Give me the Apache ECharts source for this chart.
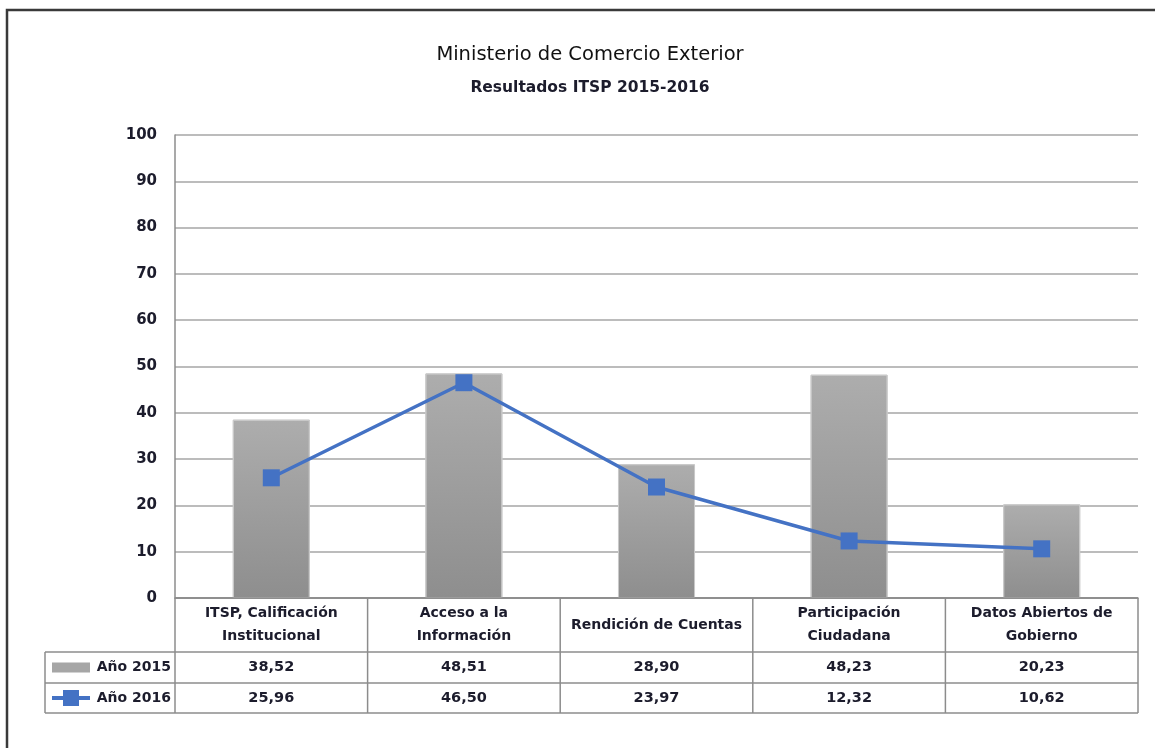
<!DOCTYPE html>
<html>
<head>
<meta charset="utf-8">
<script src="https://cdn.jsdelivr.net/npm/echarts@6/dist/echarts.min.js"></script>
<style>
html,body{margin:0;padding:0;background:#fff;}
#c{width:1155px;height:748px;}
</style>
</head>
<body>
<div id="c"></div>
<script>
var categories = ['ITSP, Calificación\nInstitucional', 'Acceso a la\nInformación', 'Rendición de Cuentas', 'Participación\nCiudadana', 'Datos Abiertos de\nGobierno'];
var values2015 = [38.52, 48.51, 28.90, 48.23, 20.23];
var values2016 = [25.96, 46.50, 23.97, 12.32, 10.62];
var seriesNames = ['Año 2015', 'Año 2016'];
var yTicks = [0, 10, 20, 30, 40, 50, 60, 70, 80, 90, 100];
var titleText = 'Ministerio de Comercio Exterior';
var subtitleText = 'Resultados ITSP 2015-2016';

var FONT = '"DejaVu Sans", sans-serif';
var TXT = '#1c1c2c';
var chart = echarts.init(document.getElementById('c'), null, {renderer: 'canvas'});

function fmt(v) { return v.toFixed(2).replace('.', ','); }

var option = {
  backgroundColor: '#fff',
  animation: false,
  title: [
    {text: titleText, left: 585, top: 40, textAlign: 'center',
     textStyle: {fontFamily: FONT, fontSize: 19.5, fontWeight: 'normal', color: '#111'}},
    {text: subtitleText, left: 585, top: 75, textAlign: 'center',
     textStyle: {fontFamily: FONT, fontSize: 15.5, fontWeight: 'bold', color: TXT}}
  ],
  grid: {left: 175, right: 17, top: 135, bottom: 150, containLabel: false},
  xAxis: {
    type: 'category', data: categories,
    axisLine: {show: true, lineStyle: {color: '#8c8c8c', width: 1.5}},
    axisTick: {show: false}, axisLabel: {show: false}, splitLine: {show: false}
  },
  yAxis: {
    type: 'value', min: yTicks[0], max: yTicks[yTicks.length - 1], interval: yTicks[1] - yTicks[0],
    axisLine: {show: true, lineStyle: {color: '#8c8c8c', width: 1.5}},
    axisTick: {show: false},
    axisLabel: {margin: 18, fontFamily: FONT, fontSize: 15, fontWeight: 'bold', color: TXT},
    splitLine: {show: true, lineStyle: {color: '#a6a6a6', width: 1.5}}
  },
  series: [
    {
      name: seriesNames[0], type: 'bar', data: values2015, barWidth: '40%',
      itemStyle: {
        color: new echarts.graphic.LinearGradient(0, 0, 0, 1, [
          {offset: 0, color: '#adadad'}, {offset: 1, color: '#8e8e8e'}
        ]),
        borderColor: '#c9c9c9', borderWidth: 1
      },
      z: 2
    },
    {
      name: seriesNames[1], type: 'line', data: values2016,
      symbol: 'rect', symbolSize: 17, showAllSymbol: true,
      lineStyle: {color: '#4472C4', width: 3.5},
      itemStyle: {color: '#4472C4'},
      z: 3
    }
  ]
};
chart.setOption(option);

function buildTable() {
  var c0 = chart.convertToPixel({xAxisIndex: 0}, 0);
  var c1 = chart.convertToPixel({xAxisIndex: 0}, 1);
  var band = c1 - c0;
  var x0 = c0 - band / 2;
  var xEnd = x0 + band * categories.length;
  var yTop = chart.convertToPixel({yAxisIndex: 0}, 0);
  var yHead = yTop + 54;
  var yRow1 = yHead + 31;
  var yRow2 = yRow1 + 30;
  var xLeft = 45;
  var lc = '#8c8c8c';
  var els = [];
  function line(x1, y1, x2, y2) {
    els.push({type: 'line', shape: {x1: x1, y1: y1, x2: x2, y2: y2}, style: {stroke: lc, lineWidth: 1.5}, z: 10});
  }
  function txt(x, y, t, size) {
    els.push({type: 'text', x: x, y: y, style: {text: t, x: 0, y: 0, align: 'center', verticalAlign: 'middle',
      font: 'bold ' + size + 'px ' + FONT, fill: TXT, lineHeight: 23}, z: 11});
  }
  // outer frame
  els.push({type: 'rect', shape: {x: 7, y: 10, width: 1160, height: 760}, style: {fill: null, stroke: '#3a3a3a', lineWidth: 2.5}, z: 20});
  // horizontal lines
  line(x0, yHead, xEnd, yHead);
  line(xLeft, yHead, x0, yHead);
  line(xLeft, yRow1, xEnd, yRow1);
  line(xLeft, yRow2, xEnd, yRow2);
  line(x0, yTop, xEnd, yTop);
  // vertical lines
  line(xLeft, yHead, xLeft, yRow2);
  for (var i = 0; i <= categories.length; i++) {
    line(x0 + band * i, yTop, x0 + band * i, yRow2);
  }
  for (var j = 0; j < categories.length; j++) {
    var cx = x0 + band * (j + 0.5);
    txt(cx, (yTop + yHead) / 2, categories[j], 14);
    txt(cx, (yHead + yRow1) / 2, fmt(values2015[j]), 14.5);
    txt(cx, (yRow1 + yRow2) / 2, fmt(values2016[j]), 14.5);
  }
  // legend keys
  var r1 = (yHead + yRow1) / 2, r2 = (yRow1 + yRow2) / 2;
  els.push({type: 'rect', shape: {x: 52, y: r1 - 5, width: 38, height: 10}, style: {fill: '#a6a6a6'}, z: 11});
  els.push({type: 'line', shape: {x1: 52, y1: r2, x2: 90, y2: r2}, style: {stroke: '#4472C4', lineWidth: 4}, z: 11});
  els.push({type: 'rect', shape: {x: 63, y: r2 - 8, width: 16, height: 16}, style: {fill: '#4472C4'}, z: 12});
  els.push({type: 'text', x: 171, y: r1, style: {text: seriesNames[0], align: 'right', verticalAlign: 'middle', font: 'bold 14px ' + FONT, fill: TXT}, z: 11});
  els.push({type: 'text', x: 171, y: r2, style: {text: seriesNames[1], align: 'right', verticalAlign: 'middle', font: 'bold 14px ' + FONT, fill: TXT}, z: 11});
  chart.setOption({graphic: {elements: els}});
}
buildTable();
</script>
</body>
</html>
